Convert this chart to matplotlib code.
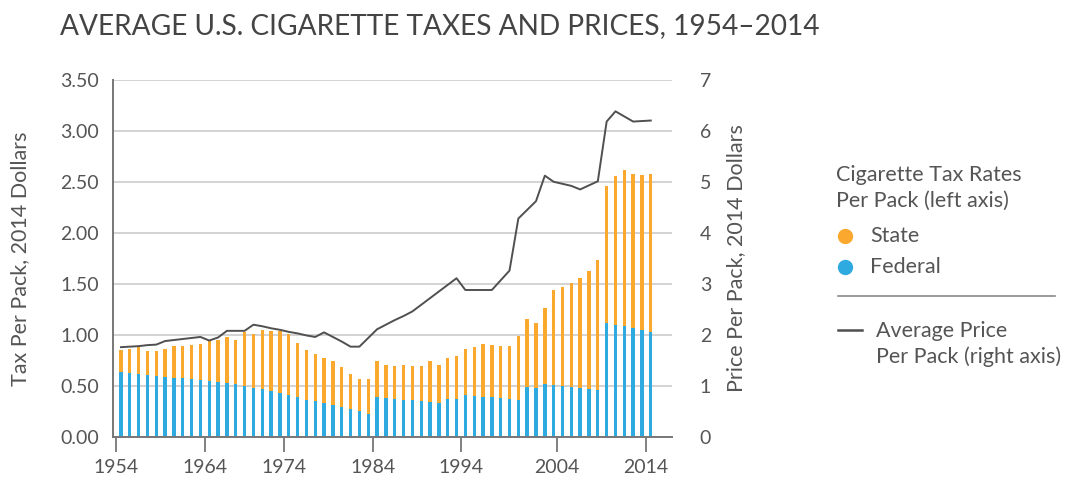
import matplotlib
matplotlib.use("Agg")
import matplotlib.pyplot as plt
from matplotlib.lines import Line2D

# -----------------------------
# Data
# -----------------------------
YEARS = list(range(1954, 2015))

# tax per pack, 2014 dollars (left axis)
FEDERAL = [0.64, 0.63, 0.62, 0.61, 0.60, 0.59, 0.58, 0.58, 0.57, 0.56,
           0.55, 0.54, 0.53, 0.52, 0.50, 0.48, 0.47, 0.45, 0.43, 0.41,
           0.39, 0.36, 0.35, 0.33, 0.31, 0.29, 0.27, 0.25, 0.23, 0.39,
           0.38, 0.37, 0.36, 0.36, 0.35, 0.34, 0.33, 0.37, 0.37, 0.41,
           0.40, 0.39, 0.39, 0.38, 0.37, 0.36, 0.49, 0.48, 0.52, 0.51,
           0.50, 0.49, 0.48, 0.47, 0.46, 1.12, 1.10, 1.09, 1.07, 1.05,
           1.03]
STATE = [0.21, 0.23, 0.26, 0.23, 0.24, 0.27, 0.31, 0.31, 0.33, 0.35,
         0.39, 0.41, 0.45, 0.43, 0.53, 0.53, 0.58, 0.59, 0.61, 0.60,
         0.53, 0.49, 0.46, 0.44, 0.43, 0.40, 0.35, 0.32, 0.34, 0.35,
         0.33, 0.33, 0.35, 0.34, 0.35, 0.40, 0.38, 0.40, 0.42, 0.45,
         0.48, 0.52, 0.51, 0.51, 0.52, 0.63, 0.67, 0.64, 0.74, 0.93,
         0.97, 1.02, 1.08, 1.16, 1.27, 1.34, 1.46, 1.53, 1.51, 1.52,
         1.55]

# average price per pack, 2014 dollars (right axis)
PRICE = [1.76, 1.77, 1.78, 1.80, 1.81, 1.88, 1.90, 1.92, 1.94, 1.96,
         1.89, 1.95, 2.08, 2.08, 2.08, 2.20, 2.17, 2.13, 2.10, 2.06,
         2.03, 1.99, 1.96, 2.05, 1.96, 1.87, 1.77, 1.77, 1.94, 2.11,
         2.20, 2.29, 2.37, 2.46, 2.59, 2.72, 2.85, 2.98, 3.11, 2.88,
         2.88, 2.88, 2.88, 3.07, 3.26, 4.28, 4.45, 4.62, 5.12, 5.00,
         4.96, 4.92, 4.85, 4.93, 5.01, 6.18, 6.38, 6.28, 6.18, 6.19,
         6.20]

TICK_YEARS = [1953.4, 1963.5, 1972.5, 1982.5, 1992.5, 2003.4, 2013.4]
TICK_LABELS = ["1954", "1964", "1974", "1984", "1994", "2004", "2014"]
LEFT_TICKS = [0, 0.5, 1.0, 1.5, 2.0, 2.5, 3.0, 3.5]
RIGHT_TICKS = [0, 1, 2, 3, 4, 5, 6, 7]

# -----------------------------
# Style
# -----------------------------
ORANGE = "#FBA92E"
BLUE = "#2EAAE1"
LINE = "#505050"
TEXT = "#555555"
GRID = "#D3D3D3"
AXIS = "#777777"
W, H = 1066, 482
LEG_SIZE = 15.5

plt.rcParams["font.family"] = ["Lato", "DejaVu Sans"]


def fx(px):
    return px / W


def fy(py):
    return 1 - py / H


def main():
    fig = plt.figure(figsize=(W / 100, H / 100), dpi=100)
    ax = fig.add_axes([fx(113), fy(437), (672 - 113) / W, (437 - 79.7) / H])

    ax.bar(YEARS, FEDERAL, width=0.38, color=BLUE, zorder=3)
    ax.bar(YEARS, STATE, width=0.38, bottom=FEDERAL, color=ORANGE, zorder=3)

    ax.set_xlim(1953.1, 2016.4)
    ax.set_ylim(0, 3.5)
    ax.set_yticks(LEFT_TICKS)
    ax.set_yticklabels([f"{v:.2f}" for v in LEFT_TICKS])
    ax.set_xticks(TICK_YEARS)
    ax.set_xticklabels(TICK_LABELS)
    ax.grid(axis="y", color=GRID, linewidth=1.4, zorder=0)
    ax.set_axisbelow(True)

    for side in ["top", "right"]:
        ax.spines[side].set_visible(False)
    for side in ["left", "bottom"]:
        ax.spines[side].set_color(AXIS)
        ax.spines[side].set_linewidth(1.4)
        ax.spines[side].set_zorder(4)
    ax.tick_params(axis="y", length=0, pad=10, labelsize=14, labelcolor=TEXT)
    ax.tick_params(axis="x", length=11, width=1.3, color=AXIS, pad=5,
                   labelsize=14, labelcolor=TEXT)
    ax.set_ylabel("Tax Per Pack, 2014 Dollars", fontsize=15.5, color=TEXT,
                  labelpad=22)

    ax2 = ax.twinx()
    ax2.plot(YEARS, PRICE, color=LINE, linewidth=1.4, zorder=5)
    ax2.set_ylim(0, 7)
    ax2.set_yticks(RIGHT_TICKS)
    for side in ["top", "right", "left", "bottom"]:
        ax2.spines[side].set_visible(False)
    ax2.tick_params(axis="y", length=0, pad=20, labelsize=14, labelcolor=TEXT)
    ax2.set_ylabel("Price Per Pack, 2014 Dollars", fontsize=15.5, color=TEXT,
                   labelpad=11)

    # title
    fig.text(fx(60), fy(26), "AVERAGE U.S. CIGARETTE TAXES AND PRICES, 1954\u20132014",
             fontsize=20.2, color="#444444", va="center", ha="left")

    # legend (drawn by hand)
    fig.text(fx(836), fy(181), "Cigarette Tax Rates", fontsize=LEG_SIZE, color=TEXT,
             va="baseline")
    fig.text(fx(836), fy(207), "Per Pack (left axis)", fontsize=LEG_SIZE, color=TEXT,
             va="baseline")
    fig.add_artist(Line2D([fx(845)], [fy(236)], marker="o", markersize=10,
                          color=ORANGE, linestyle="none"))
    fig.add_artist(Line2D([fx(845)], [fy(267)], marker="o", markersize=10,
                          color=BLUE, linestyle="none"))
    fig.text(fx(870), fy(242), "State", fontsize=LEG_SIZE, color=TEXT, va="baseline")
    fig.text(fx(870), fy(273), "Federal", fontsize=LEG_SIZE, color=TEXT, va="baseline")
    fig.add_artist(Line2D([fx(838), fx(1055)], [fy(296), fy(296)], color="#8A8A8A",
                          linewidth=1.2))
    fig.add_artist(Line2D([fx(838), fx(862)], [fy(330), fy(330)], color=LINE,
                          linewidth=1.8))
    fig.text(fx(876), fy(337), "Average Price", fontsize=LEG_SIZE, color=TEXT,
             va="baseline")
    fig.text(fx(876), fy(363), "Per Pack (right axis)", fontsize=LEG_SIZE, color=TEXT,
             va="baseline")

    fig.savefig("out.png", dpi=100)
    plt.close(fig)


if __name__ == "__main__":
    main()
